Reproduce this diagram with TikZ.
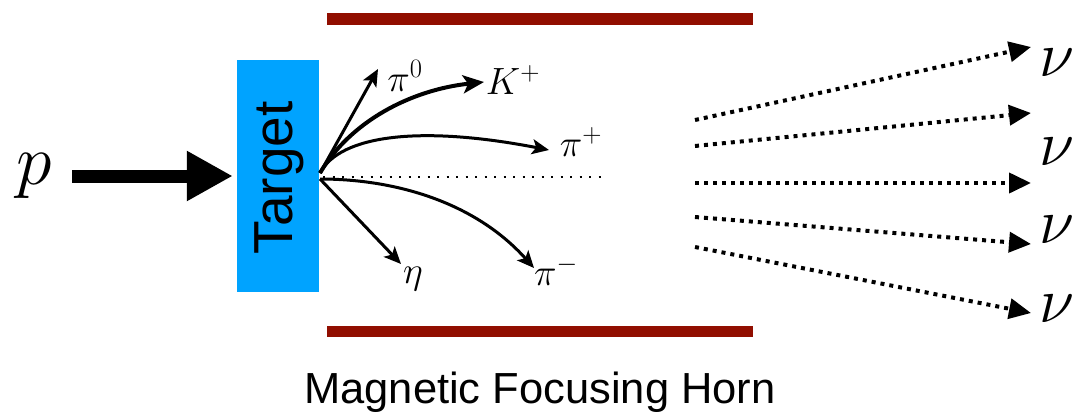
\RequirePackage{fix-cm}
\documentclass[tikz,border=0pt]{standalone}
\usepackage{fontspec}
\setsansfont{Liberation Sans}
\usetikzlibrary{arrows.meta}
\definecolor{hornred}{RGB}{145,14,0}
\definecolor{tgtblue}{RGB}{0,163,255}
\begin{document}
\begin{tikzpicture}[x=1pt,y=-1pt,
  part/.style={line width=3pt,-{Stealth[length=17pt,width=15pt,inset=4pt]}},
  kpart/.style={line width=4pt,-{Stealth[length=21pt,width=18pt,inset=5pt]}},
  nuarrow/.style={line width=4pt,dash pattern=on 4pt off 5pt,-{Triangle[length=22pt,width=20pt]}},
  plabel/.style={inner sep=0pt,font=\fontsize{38}{44}\selectfont},
  nulabel/.style={inner sep=0pt,font=\fontsize{64}{70}\selectfont},
  hornbar/.style={fill=hornred}]
\useasboundingbox (0,0) rectangle (1073,413);
% horn plates
\fill[hornbar] (327,13) rectangle (753,25);
\fill[hornbar] (327,325.5) rectangle (753,337);
\node[font=\sffamily\fontsize{43.5}{50}\selectfont, anchor=base, inner sep=0pt] (horn) at (540,403) {Magnetic Focusing Horn};
% target
\node[fill=tgtblue, minimum width=82pt, minimum height=232pt, inner sep=0pt] (tgt) at (278,176) {};
\node[rotate=90, inner sep=0pt, font=\sffamily\fontsize{55}{60}\selectfont] (tgtlabel) at (279,178) {Target};
% proton
\node[inner sep=0pt, font=\fontsize{72}{80}\selectfont] (p) at (34,176) {$p$};
\coordinate (pstart) at (72,176);
\draw[line width=13pt, -{Triangle[length=46pt,width=47pt]}, shorten >=4pt] (pstart) -- (tgt.west);
% secondary particles
\coordinate (su) at (320,173);
\coordinate (sd) at (320,179);
\coordinate (tpi0) at (378,69);
\coordinate (tK) at (484,82);
\coordinate (tpip) at (549,150);
\coordinate (teta) at (401,264);
\coordinate (tpim) at (534,268);
\coordinate (axs) at (323,177);
\coordinate (axe) at (607,177);
\draw[line width=2pt, dash pattern=on 2pt off 7.5pt] (axs) -- (axe);
\draw[part] (su) -- (tpi0);
\draw[kpart] (su) .. controls (350,122) and (410,90) .. (tK);
\draw[part] (su) .. controls (340,135) and (420,125) .. (tpip);
\draw[part] (sd) -- (teta);
\draw[part] (sd) .. controls (395,179) and (475,202) .. (tpim);
\node[plabel] (lpi0) at (405,76) {$\pi^0$};
\node[plabel] (lK) at (513,80) {$K^+$};
\node[plabel] (lpip) at (581,142) {$\pi^+$};
\node[plabel] (leta) at (413,279) {$\eta$};
\node[plabel] (lpim) at (556,271) {$\pi^-$};
% neutrinos
\coordinate (n1s) at (695,120); \coordinate (n1e) at (1031,47);
\coordinate (n2s) at (695,146); \coordinate (n2e) at (1031,113);
\coordinate (n3s) at (695,183); \coordinate (n3e) at (1031,183);
\coordinate (n4s) at (695,217); \coordinate (n4e) at (1031,244);
\coordinate (n5s) at (695,247); \coordinate (n5e) at (1031,313);
\draw[nuarrow] (n1s) -- (n1e);
\draw[nuarrow] (n2s) -- (n2e);
\draw[nuarrow] (n3s) -- (n3e);
\draw[nuarrow] (n4s) -- (n4e);
\draw[nuarrow] (n5s) -- (n5e);
\node[nulabel] (nu1) at (1057,63) {$\nu$};
\node[nulabel] (nu2) at (1057,152) {$\nu$};
\node[nulabel] (nu3) at (1057,230) {$\nu$};
\node[nulabel] (nu4) at (1057,309) {$\nu$};
\end{tikzpicture}
\end{document}
